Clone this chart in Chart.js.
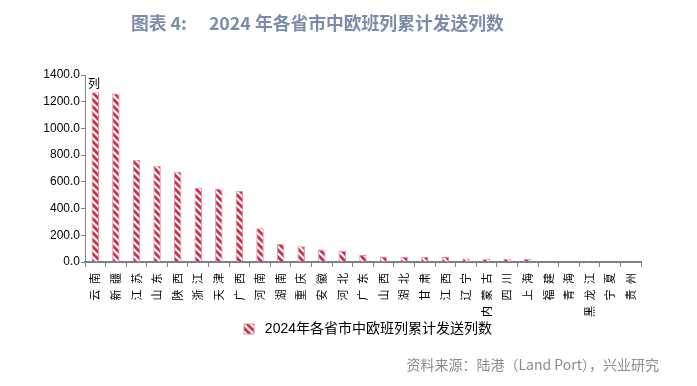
<!DOCTYPE html>
<html>
<head>
<meta charset="utf-8">
<script src="https://cdn.jsdelivr.net/npm/chart.js@4.4.1/dist/chart.umd.min.js"></script>
<style>
  html, body { margin: 0; padding: 0; background: #fff; }
  #wrap { position: relative; width: 697px; height: 386px; }
  #chart { position: absolute; left: 0; top: 0; }
  #title { position: absolute; left: 131px; top: 10px; font: bold 17.8px "Noto Sans CJK SC"; color: #7d8da8; white-space: pre; line-height: 24px; }
  #source { position: absolute; right: 38px; top: 354px; font: 14px "Noto Sans CJK SC"; color: #8c8c8c; line-height: 20px; }
</style>
</head>
<body>
<div id="wrap">
  <canvas id="chart" width="697" height="386"></canvas>
  <div id="title"><span>图表 4:</span><span style="margin-left:22px">2024 年各省市中欧班列累计发送列数</span></div>
  <div id="source">资料来源：陆港（Land Port），兴业研究</div>
</div>
<script>
const provinces = ['云南', '新疆', '江苏', '山东', '陕西', '浙江', '天津', '广西', '河南', '湖南', '重庆', '安徽', '河北', '广东', '山西', '湖北', '甘肃', '江西', '辽宁', '内蒙古', '四川', '上海', '福建', '青海', '黑龙江', '宁夏', '贵州'];
const trainCounts = [1270, 1262, 765, 720, 676, 556, 551, 534, 252, 136, 117, 94, 85, 52, 42, 40, 40, 37, 26, 25, 24, 24, 9, 8, 7, 0, 0];
const seriesName = '2024年各省市中欧班列累计发送列数';
const yMax = 1400;
const yStep = 200;

// diagonal hatch like the excel fill
function makeHatch() {
  const c = document.createElement('canvas');
  c.width = 7; c.height = 7;
  const g = c.getContext('2d');
  g.fillStyle = '#fff';
  g.fillRect(0, 0, 7, 7);
  g.strokeStyle = '#c8314c';
  g.lineWidth = 2.8;
  for (const off of [-7, 0, 7]) {
    g.beginPath();
    g.moveTo(off - 1, -1);
    g.lineTo(off + 8, 8);
    g.stroke();
  }
  return g.createPattern(c, 'repeat');
}

const unitLabel = {
  id: 'unitLabel',
  afterDraw(chart) {
    const { ctx, chartArea } = chart;
    ctx.save();
    ctx.font = '12px "Noto Sans CJK SC"';
    ctx.fillStyle = '#000';
    ctx.textBaseline = 'middle';
    ctx.fillText('列', chartArea.left + 3, chartArea.top + 8);
    ctx.restore();
  }
};

// nudge legend a bit to the right, as in the source picture
const legendShift = {
  id: 'legendShift',
  afterLayout(chart) {
    if (chart.legend) {
      chart.legend.left += 5;
      chart.legend.right += 5;
    }
  }
};

const ctx = document.getElementById('chart').getContext('2d');
new Chart(ctx, {
  type: 'bar',
  data: {
    labels: provinces,
    datasets: [{
      label: seriesName,
      data: trainCounts,
      backgroundColor: makeHatch(),
      borderColor: '#e58a9a',
      borderWidth: 1,
      categoryPercentage: 1,
      barPercentage: 0.36
    }]
  },
  options: {
    responsive: false,
    animation: false,
    layout: { padding: { left: 25, right: 56, top: 75, bottom: 40 } },
    plugins: {
      tooltip: { enabled: false },
      legend: {
        position: 'bottom',
        fullSize: false,
        labels: {
          boxWidth: 10,
          boxHeight: 10,
          padding: 4,
          color: '#000',
          font: { family: '"Liberation Sans", "Noto Sans CJK SC"', size: 14 },
          generateLabels: chart => Chart.defaults.plugins.legend.labels.generateLabels(chart)
            .map(item => ({ ...item, text: ' ' + item.text }))
        }
      }
    },
    scales: {
      x: {
        grid: { drawOnChartArea: false, offset: true, tickLength: 5, color: '#808080' },
        border: { color: '#808080', width: 2 },
        ticks: {
          autoSkip: false,
          minRotation: 90,
          maxRotation: 90,
          padding: 6,
          color: '#000',
          font: { family: '"Noto Sans CJK SC"', size: 11 },
          callback: (v, i) => provinces[i].split('').join('\u2002')
        },
        afterFit: s => { s.height = 56; }
      },
      y: {
        min: 0,
        max: yMax,
        ticks: {
          stepSize: yStep,
          padding: 1,
          color: '#000',
          font: { family: '"Liberation Sans"', size: 12 },
          callback: v => v.toFixed(1)
        },
        grid: { drawOnChartArea: false, tickLength: 4, color: '#808080' },
        border: { color: '#808080', width: 1 },
        afterFit: s => { s.width = 60; }
      }
    }
  },
  plugins: [unitLabel, legendShift]
});
</script>
</body>
</html>
